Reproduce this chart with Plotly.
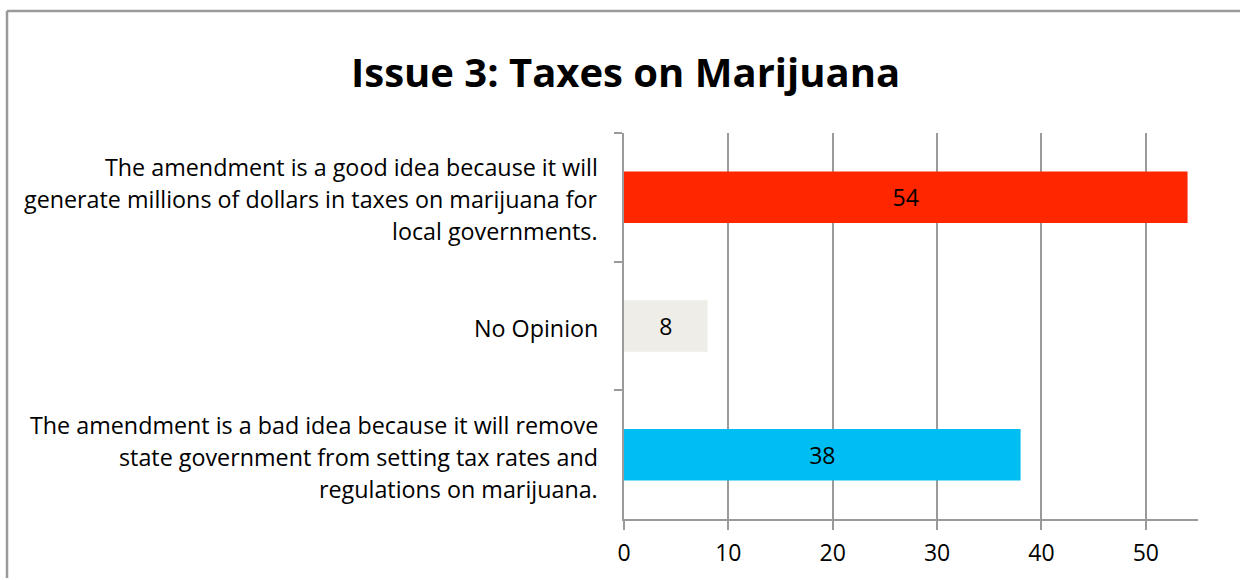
import plotly.graph_objects as go

# Survey answers, listed top to bottom
categories = [
    "The amendment is a good idea because it will<br>generate millions of dollars in taxes on marijuana for<br>local governments.",
    "No Opinion",
    "The amendment is a bad idea because it will remove<br>state government from setting tax rates and<br>regulations on marijuana.",
]
values = [54, 8, 38]
bar_colors = ["#ff2600", "#eeede7", "#00bdf2"]
x_ticks = [0, 10, 20, 30, 40, 50]

W, H = 1244, 580
L, R, T, B = 624, 46, 133, 61
plot_w = W - L - R
plot_h = H - T - B

FONT = "Open Sans"
LABEL_SIZE = 23.3
LINE_GAP = 32
GRID = "#9a9a9a"

fig = go.Figure(
    go.Bar(
        x=values,
        y=categories,
        orientation="h",
        marker=dict(color=bar_colors, line=dict(width=0)),
        width=0.4,
        text=[str(v) for v in values],
        textposition="inside",
        insidetextanchor="middle",
        constraintext="none",
        textfont=dict(family=FONT, size=23, color="black"),
        hoverinfo="skip",
    )
)

# Category labels, one text line per annotation so the line spacing stays loose
annotations = []
for cat in categories:
    lines = cat.split("<br>")
    n = len(lines)
    for i, line in enumerate(lines):
        annotations.append(
            dict(
                x=0, xref="paper",
                y=cat, yref="y",
                text=line,
                showarrow=False,
                xanchor="right", yanchor="middle",
                xshift=-24,
                yshift=-((i - (n - 1) / 2) * LINE_GAP) - 2,
                font=dict(family=FONT, size=LABEL_SIZE, color="black"),
            )
        )

# Title
annotations.append(
    dict(
        x=(W / 2 + 3 - L) / plot_w, xref="paper",
        y=1 + (T - 71) / plot_h, yref="paper",
        text="<b>Issue 3: Taxes on Marijuana</b>",
        showarrow=False,
        xanchor="center", yanchor="middle",
        font=dict(family=FONT, size=40, color="black"),
    )
)

# Chart frame: only the left and top edges fall inside the page
fx0 = (7 - L) / plot_w
fx1 = (W - 4 - L) / plot_w
fy1 = 1 + (T - 11) / plot_h
fy0 = -(B - 2) / plot_h
shapes = [
    dict(type="line", xref="paper", yref="paper",
         x0=fx0, x1=fx0, y0=fy0, y1=fy1,
         line=dict(color=GRID, width=2.5), layer="below"),
    dict(type="line", xref="paper", yref="paper",
         x0=fx0, x1=fx1, y0=fy1, y1=fy1,
         line=dict(color=GRID, width=2.5), layer="below"),
]

fig.update_layout(
    width=W, height=H,
    margin=dict(l=L, r=R, t=T, b=B, pad=0),
    paper_bgcolor="white",
    plot_bgcolor="white",
    showlegend=False,
    annotations=annotations,
    shapes=shapes,
    xaxis=dict(
        range=[0, 55],
        tickvals=x_ticks,
        ticktext=[str(t) for t in x_ticks],
        showgrid=True,
        gridcolor=GRID,
        gridwidth=1.6,
        zeroline=False,
        showline=True,
        linecolor=GRID,
        linewidth=1.6,
        ticks="outside",
        ticklen=9,
        tickwidth=1.6,
        tickcolor=GRID,
        ticklabelstandoff=4,
        tickfont=dict(family=FONT, size=23, color="black"),
    ),
    yaxis=dict(
        type="category",
        autorange="reversed",
        tickson="boundaries",
        ticks="outside",
        ticklen=8,
        tickwidth=1.6,
        tickcolor=GRID,
        showticklabels=False,
        showgrid=False,
        zeroline=False,
        showline=True,
        linecolor=GRID,
        linewidth=1.6,
    ),
)

fig.write_html("out.html", config={"displayModeBar": False})
